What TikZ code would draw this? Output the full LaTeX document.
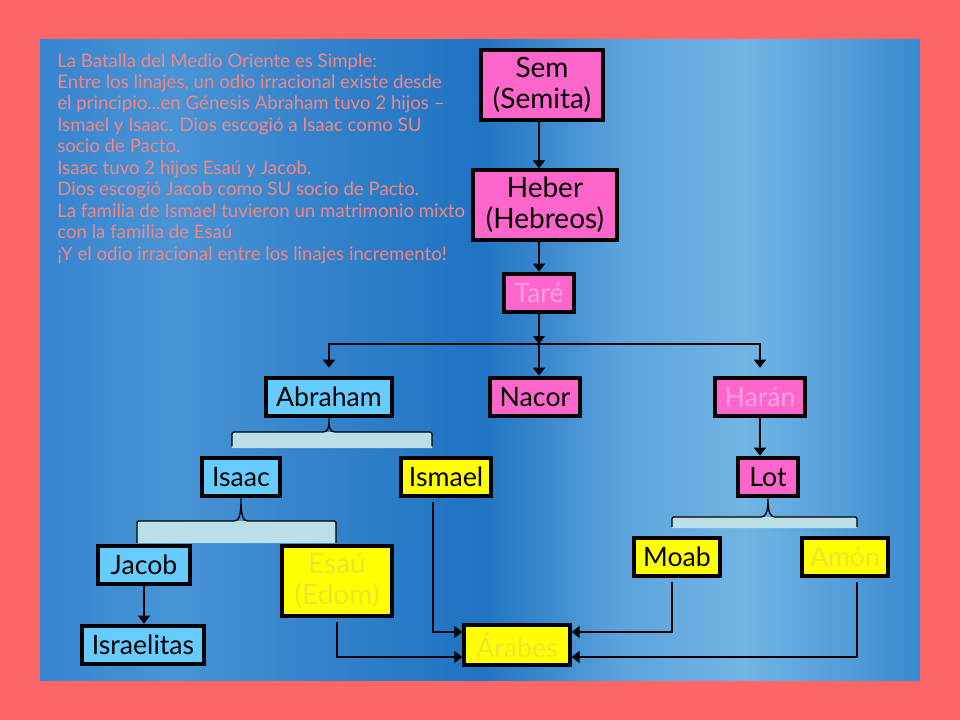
\documentclass[tikz,border=0pt]{standalone}
\usepackage{fontspec}
\setmainfont{Lato}
\usetikzlibrary{arrows.meta}

\definecolor{framered}{HTML}{FF6666}
\definecolor{boxpink}{HTML}{FF66CC}
\definecolor{boxblue}{HTML}{66CCFF}
\definecolor{boxyellow}{HTML}{FFFF00}
\definecolor{bracefill}{HTML}{BADFE6}
\definecolor{introtext}{HTML}{F08585}
\definecolor{fadepink}{HTML}{F7A2DE}
\definecolor{fadeyellow}{HTML}{E9E62E}
\definecolor{skyA}{rgb}{0.21,0.52,0.81}
\definecolor{skyB}{rgb}{0.28,0.58,0.84}
\definecolor{skyC}{rgb}{0.21,0.52,0.80}
\definecolor{skyD}{rgb}{0.12,0.45,0.76}
\definecolor{skyE}{rgb}{0.36,0.64,0.86}
\definecolor{skyF}{rgb}{0.44,0.71,0.89}
\definecolor{skyG}{rgb}{0.32,0.61,0.85}
\definecolor{skyH}{rgb}{0.22,0.54,0.81}

\begin{document}
\begin{tikzpicture}[x=0.75pt,y=-0.75pt,
    box/.style={draw=black,line width=3pt,inner sep=1pt,align=center,
      font=\fontsize{20}{23}\selectfont,minimum height=29pt},
    pinkbox/.style={box,fill=boxpink},
    bluebox/.style={box,fill=boxblue},
    yellowbox/.style={box,fill=boxyellow},
    twoline/.style={font=\fontsize{21}{23}\selectfont},
    link/.style={line width=1pt,-{Triangle[width=9pt,length=6pt]}},
    braceline/.style={line width=1pt}]

  \fill[framered] (0,0) rectangle (960,720);
  % sky background in strips
  \shade[left color=skyA,right color=skyB] (40,40) rectangle (172.5,680);
  \shade[left color=skyB,right color=skyC] (172,40) rectangle (304.5,680);
  \shade[left color=skyC,right color=skyD] (304,40) rectangle (480.5,680);
  \shade[left color=skyD,right color=skyE] (480,40) rectangle (621.5,680);
  \shade[left color=skyE,right color=skyF] (621,40) rectangle (744.5,680);
  \shade[left color=skyF,right color=skyG] (744,40) rectangle (850.5,680);
  \shade[left color=skyG,right color=skyH] (850,40) rectangle (920,680);

  \node (intro) [anchor=north west,inner sep=0pt,align=left,text=introtext,
    font=\fontsize{14}{16.1}\selectfont] at (57,53)
    {La Batalla del Medio Oriente es Simple:\\
     Entre los linajes, un odio irracional existe desde\\
     el principio...en Génesis Abraham tuvo 2 hijos –\\
     Ismael y Isaac. Dios escogió a Isaac como SU\\
     socio de Pacto.\\
     Isaac tuvo 2 hijos Esaú y Jacob.\\
     Dios escogió Jacob como SU socio de Pacto.\\
     La familia de Ismael tuvieron un matrimonio mixto\\
     con la familia de Esaú\\
     ¡Y el odio irracional entre los linajes incremento!};

  \node (sem) [pinkbox,twoline,minimum width=91pt,minimum height=53pt] at (542,85) {Sem\\(Semita)};
  \node (heber) [pinkbox,twoline,minimum width=108pt,minimum height=52pt] at (545,205) {Heber\\(Hebreos)};
  \node (tare) [pinkbox,text=fadepink,minimum width=52pt] at (539,293) {Taré};
  \node (abraham) [bluebox,minimum width=94pt] at (329,397) {Abraham};
  \node (nacor) [pinkbox,minimum width=67pt] at (535,397) {Nacor};
  \node (haran) [pinkbox,text=fadepink,minimum width=68pt] at (760,397) {Harán};
  \node (isaac) [bluebox,minimum width=58pt] at (241,477) {Isaac};
  \node (ismael) [yellowbox,minimum width=67pt] at (446,477) {Ismael};
  \node (lot) [pinkbox,minimum width=45pt] at (768,477) {Lot};
  \node (jacob) [bluebox,minimum width=69pt] at (144,565) {Jacob};
  \node (esau) [yellowbox,twoline,text=fadeyellow,minimum width=83pt,minimum height=53pt] at (337,581) {Esaú\\(Edom)};
  \node (israelitas) [bluebox,minimum width=92pt] at (143,645) {Israelitas};
  \node (arabes) [yellowbox,text=fadeyellow,minimum width=79pt,minimum height=30pt] at (517,645) {Árabes};
  \node (moab) [yellowbox,minimum width=65pt] at (677,557) {Moab};
  \node (amon) [yellowbox,text=fadeyellow,minimum width=64pt] at (845,557) {Amón};

  % family braces
  \fill[bracefill] (232,448) -- (232,436) .. controls (232,432) .. (236,432) -- (428,432)
    .. controls (432,432) .. (432,436) -- (432,448) -- cycle;
  \draw[braceline] (232,446) -- (232,436) .. controls (232,432) .. (236,432) -- (323,432)
    .. controls (328,432) and (329,428) .. (abraham.south)
    .. controls (329,428) and (330,432) .. (335,432) -- (428,432)
    .. controls (432,432) .. (432,436) -- (432,446);
  \fill[bracefill] (137,543) -- (137,525) .. controls (137,521) .. (141,521) -- (332,521)
    .. controls (336,521) .. (336,525) -- (336,543) -- cycle;
  \draw[braceline] (137,543) -- (137,525) .. controls (137,521) .. (141,521) -- (234,521)
    .. controls (239,521) and (241,516) .. (isaac.south)
    .. controls (241,516) and (243,521) .. (248,521) -- (332,521)
    .. controls (336,521) .. (336,525) -- (336,543);
  \fill[bracefill] (672,528) -- (672,521) .. controls (672,517) .. (676,517) -- (853,517)
    .. controls (857,517) .. (857,521) -- (857,528) -- cycle;
  \draw[braceline] (672,527) -- (672,521) .. controls (672,517) .. (676,517) -- (761,517)
    .. controls (766,517) and (768,512) .. (lot.south)
    .. controls (768,512) and (770,517) .. (775,517) -- (853,517)
    .. controls (857,517) .. (857,521) -- (857,527);

  \coordinate (split) at (539,344);

  \draw[link] (sem.south -| tare) -- (heber.north -| tare);
  \draw[link] (heber.south -| tare) -- (tare.north);
  \draw[link] (tare.south) -- (split);
  \draw[link] (split) -- (split |- nacor.north);
  \draw[link,shorten >=6pt] (split) -| (abraham.north);
  \draw[link,shorten >=6pt] (split) -| (haran.north);
  \draw[link] (haran.south) -- (haran.south |- lot.north);
  \draw[link] (jacob.south) -- (jacob.south |- israelitas.north);
  \draw[link,shorten <=3pt] ([xshift=-9.75pt]ismael.south) |- ([yshift=9.75pt]arabes.west);
  \draw[link,shorten <=3pt] (esau.south) |- ([yshift=-9pt]arabes.west);
  \draw[link,shorten <=3pt] ([xshift=-3.75pt]moab.south) |- ([yshift=9.75pt]arabes.east);
  \draw[link,shorten <=3pt] ([xshift=9pt]amon.south) |- ([yshift=-9pt]arabes.east);
\end{tikzpicture}
\end{document}
